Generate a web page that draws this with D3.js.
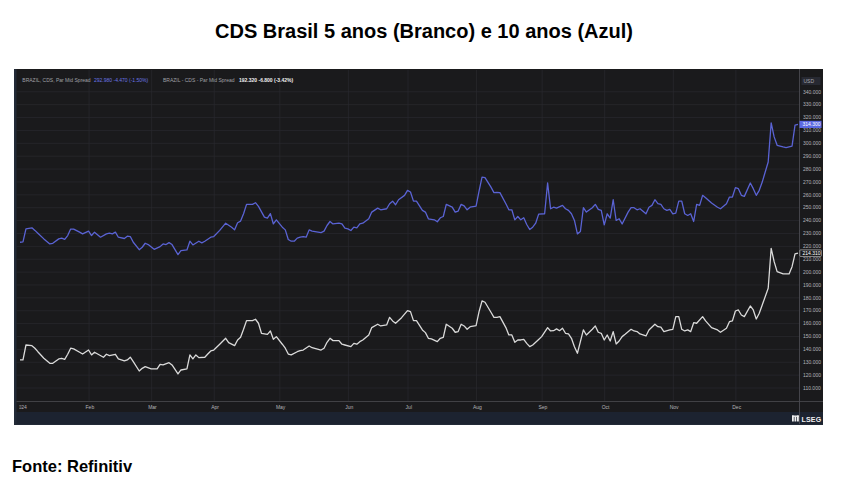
<!DOCTYPE html>
<html>
<head>
<meta charset="utf-8">
<title>CDS Brasil 5 anos (Branco) e 10 anos (Azul)</title>
<script src="https://cdnjs.cloudflare.com/ajax/libs/d3/7.8.5/d3.min.js"></script>
<style>
	body { margin: 0; background: #fff; }
	.title { font: bold 20px "Liberation Sans", Arial, sans-serif; fill: #000; }
	.source { font: bold 16.5px "Liberation Sans", Arial, sans-serif; fill: #000; }
	.tiny { font-family: "Liberation Sans", Arial, sans-serif; font-size: 5px; }
	.axis path { display: none; }
	.grid line { stroke: #2a2a2f; stroke-width: 0.7px; }
	.grid path { display: none; }
	.y-axis text { fill: #b4b4b8; }
	.x-axis text { fill: #b4b4b8; }
</style>
</head>
<body>
<svg id="chart" width="848" height="492"></svg>

<script type="text/javascript">

	// Data: trading day of 2024 (0 = Jan 1) and spread in bps
	var days10y = [0,1,2,4,5,6,8,10,11,13,14,15,16,17,18,20,21,23,24,25,27,29,30,31,32,33,35,36,37,38,
		40,41,42,43,45,47,48,49,50,51,53,54,56,57,58,60,61,62,64,65,67,69,71,72,73,74,75,76,78,79,
		80,82,83,84,85,86,88,89,90,91,92,93,94,95,96,97,98,101,102,103,104,105,107,108,109,110,111,112,113,114,
		115,117,118,120,121,123,124,125,126,127,129,130,131,132,133,135,136,137,139,140,141,142,143,145,146,147,148,149,150,151,
		153,154,155,156,158,159,160,161,163,164,165,166,167,168,169,170,171,172,173,174,176,177,178,179,180,182,183,184,185,186,
		187,188,189,190,192,193,194,195,196,197,198,199,200,201,202,204,205,206,207,208,210,211,212,213,214,215,216,217,218,219,
		220,221,222,223,224,225,226,227,228,229,230,232,234,235,237,238,239,240,241,242,243,245,246,247,248,249,251,252,253,254,
		256,257,259,260,261];
	var cds10y = [222.8,223,233.2,234,232,229.8,225.4,221.5,222,225.4,226,225,228,233,233,230.6,229.3,231.4,228,230.6,226.7,229.3,229.8,229.3,230.6,226.7,225.7,227.5,227.2,222.8,
		217,218.9,222,221,217.3,219.4,221.5,221,222.5,221,213.2,216.3,216.8,223.6,220.7,223.6,222.3,223.6,226.7,227.2,232,237.6,234.5,232.4,237.9,239.2,244.9,252.2,252.2,253.5,
		250.6,242.3,241.5,245,237,240.2,234.5,232.4,224.9,223.6,223.6,226,226.7,227.2,226.7,232.4,231.4,230.3,231.4,235.8,238.9,237,237.6,237,233.7,233.2,231.9,234.5,234,237,
		237.6,241,246.2,249.3,248,248.8,252.7,254.7,251.9,255.8,259.2,263.1,261.8,254.7,254.7,247.5,246.2,241,240.2,238.7,241.8,242.8,252.2,250.1,246.2,247,252.2,251.1,248,250,
		250.8,262.5,273.4,273,265.6,261.3,261.5,261.3,252.7,248,248,240.2,242.8,240.2,241.8,236.6,232.7,234.5,237.6,244.6,244.9,268.8,248.8,250,249.3,251.4,248.8,247.5,244.9,239.7,
		229.3,231.1,249.6,246.2,249.6,252.2,248.3,247.5,236.3,244.9,241.5,255.8,239.7,241,237,246.2,249.6,249.6,248,248.8,244.9,250,251.4,255.8,252.7,252.2,248.8,247.5,248.3,244.9,
		245.4,254.7,254.7,244.9,243.6,244.9,238.9,252.2,251.4,259.2,257.4,253.2,250,248.8,252.7,257.9,257.9,265.2,264.4,259.2,258.4,268.8,264.4,259.2,263.1,269.5,285.1,315.5,304.6,298.1,
		296.8,296.3,297.4,313.7,314.3];

	var days5y = [0,1,2,4,5,6,8,10,11,13,14,15,16,17,18,20,21,23,24,25,28,29,30,32,33,35,36,37,38,
		40,41,42,44,46,47,48,50,51,53,54,56,57,58,59,60,62,63,64,65,67,69,70,72,73,74,75,76,78,79,
		80,81,83,84,85,86,88,89,90,91,93,94,95,97,98,101,102,103,104,105,107,108,109,111,112,113,114,
		115,117,118,120,121,123,124,125,126,128,130,131,132,133,135,136,137,138,140,141,142,143,145,146,147,148,149,150,151,
		153,154,155,156,158,159,160,161,163,164,165,166,167,168,169,170,171,172,174,175,177,178,179,180,181,182,183,184,185,186,
		187,189,190,192,193,194,195,196,197,198,199,200,201,202,203,205,206,207,208,210,211,213,214,215,216,218,219,
		220,221,222,223,224,225,226,227,229,230,232,234,235,237,238,239,240,241,242,243,245,246,247,248,249,251,252,253,254,
		256,258,259,260,261];
	var cds5y = [131.4,131.4,143,142.5,140.5,137.8,132.7,128.8,128.8,132.2,132.7,131.9,135.8,140.5,140,137.4,136,139.1,135.3,137.4,133.5,135.8,134.7,135.8,132.2,130.6,131.4,133.5,130.1,
		122.8,124.9,126.2,124.4,124.4,128,127.5,129.3,127.5,120.5,123.6,124.4,135.3,132.2,135.3,133.2,133.5,136,138.4,139.1,143.6,148.2,144.8,142.5,146.9,149,155.2,161.9,161.9,163,
		159.9,152.1,151.3,153.9,147.4,149.5,143.6,140.5,136,135.3,137.8,138.6,139.1,142.2,140.9,139.1,140.5,145.1,148.2,146.4,146.4,143.6,143,141.7,144.3,143.6,145.6,
		146.9,150.8,156.5,159.1,157.8,158.6,164.5,161.7,159.9,164.2,169.7,168.9,161.9,161.9,154.7,152.6,148.2,147.7,145.6,148.2,149,159.1,156,152.9,153.4,159.1,157.8,155.2,157.2,
		158,168.9,177.2,176.2,168.4,164.5,164.5,165,156.5,150.8,150.8,145.1,146.9,146.9,147.4,144.3,141.7,143,147.3,149.5,156.5,153.9,154.1,155.5,154.1,156,152.1,151.6,148.2,141.7,
		136.6,154.7,150.8,155.2,157.8,152.9,152.1,146.9,150.8,146.1,153.4,143.8,146.1,149.5,151.3,155.2,153.9,153.4,151.6,150,154.7,159.1,157.2,156.8,153.4,154.7,155.2,
		165,165,155.2,153.9,154.7,153.4,160.3,159.9,165,161.7,156.5,154.7,152.9,156,161.1,161.7,169.4,170.2,166.3,165,173.3,170.2,163.2,167.6,174.1,187.1,218.1,207.7,200,
		198.2,198.2,203.8,213.7,214.31];

	var yTicks = [110,120,130,140,150,160,170,180,190,200,210,220,230,240,250,260,270,280,290,300,310,320,330,340];
	var monthLabels = ['2024','Feb','Mar','Apr','May','Jun','Jul','Aug','Sep','Oct','Nov','Dec'];
	var legend10y = ['BRAZIL, CDS, Par Mid Spread', '292.980  -4.470 (-1.50%)'];
	var legend5y = ['BRAZIL - CDS - Par Mid Spread', '192.320  -6.800 (-3.42%)'];
	var lastLabels = ['314.300', '214.310'];

	// Layout
	var panel = { left: 14, top: 69, right: 823, bottom: 425 };
	var plot = { left: 16.5, top: 70, right: 799.5, bottom: 401 };
	var blue = '#5a63d4', white = '#dadada';

	var svg = d3.select('#chart');

	svg.append('text').attr('class', 'title')
		.attr('x', 424).attr('y', 38).attr('text-anchor', 'middle')
		.text('CDS Brasil 5 anos (Branco) e 10 anos (Azul)');

	svg.append('text').attr('class', 'source')
		.attr('x', 12).attr('y', 472)
		.text('Fonte: Refinitiv');

	// Panel background
	svg.append('rect')
		.attr('x', panel.left).attr('y', panel.top)
		.attr('width', panel.right - panel.left).attr('height', panel.bottom - panel.top)
		.attr('fill', '#222a37');
	svg.append('rect')
		.attr('x', plot.left).attr('y', panel.top)
		.attr('width', panel.right - plot.left).attr('height', 412 - panel.top)
		.attr('fill', '#1a1a1c');
	svg.append('rect')
		.attr('x', plot.left).attr('y', 412)
		.attr('width', panel.right - plot.left).attr('height', panel.bottom - 413)
		.attr('fill', '#1c2330');

	// Trading-day calendar of 2024 (weekdays)
	var weekdays = [];
	for (var d = new Date(2024, 0, 1); d.getFullYear() === 2024; d.setDate(d.getDate() + 1)) {
		if (d.getDay() !== 0 && d.getDay() !== 6) weekdays.push(new Date(d));
	}
	var monthStarts = monthLabels.map(function(m, i) {
		return weekdays.findIndex(function(w) { return w.getMonth() === i; });
	});

	var x = d3.scaleLinear().domain([0, weekdays.length - 1]).range([20, 798]);
	var y = d3.scaleLinear().domain([110, 340]).range([387.5, 91.3]);

	svg.append('clipPath').attr('id', 'plot-clip')
		.append('rect')
		.attr('x', plot.left).attr('y', plot.top)
		.attr('width', plot.right - plot.left).attr('height', plot.bottom - plot.top);
	svg.append('clipPath').attr('id', 'xlab-clip')
		.append('rect')
		.attr('x', 19.3).attr('y', plot.bottom)
		.attr('width', plot.right - 19.3).attr('height', 11);

	// Grid
	svg.append('g').attr('class', 'grid')
		.attr('transform', 'translate(' + plot.right + ',0)')
		.call(d3.axisLeft(y).tickValues(yTicks).tickSize(plot.right - plot.left).tickFormat(''));
	svg.append('g')
		.attr('clip-path', 'url(#plot-clip)')
		.append('g').attr('class', 'grid')
		.attr('transform', 'translate(0,' + plot.bottom + ')')
		.call(d3.axisBottom(x).tickValues(monthStarts.slice(1)).tickSize(-(plot.bottom - plot.top)).tickFormat(''));

	// Axes
	var yAxis = svg.append('g').attr('class', 'axis y-axis tiny')
		.attr('transform', 'translate(803,0)')
		.call(d3.axisRight(y).tickValues(yTicks).tickSize(0).tickPadding(0).tickFormat(d3.format('.3f')));
	yAxis.selectAll('text').style('font-size', '5px').attr('dy', '0.35em');

	var xAxis = svg.append('g')
		.attr('clip-path', 'url(#xlab-clip)')
		.append('g').attr('class', 'axis x-axis tiny')
		.attr('transform', 'translate(0.8,' + plot.bottom + ')')
		.call(d3.axisBottom(x).tickValues(monthStarts).tickSize(0).tickPadding(4)
			.tickFormat(function(v, i) { return monthLabels[i]; }));
	xAxis.selectAll('text').style('font-size', '5px');

	svg.append('line')
		.attr('x1', plot.left).attr('x2', panel.right)
		.attr('y1', plot.bottom + 0.5).attr('y2', plot.bottom + 0.5)
		.attr('stroke', '#46464b').attr('stroke-width', 0.9);
	svg.append('line')
		.attr('x1', plot.right).attr('x2', plot.right)
		.attr('y1', panel.top).attr('y2', panel.bottom - 1)
		.attr('stroke', '#4a4a50').attr('stroke-width', 0.9);

	// Series
	var line = d3.line()
		.x(function(p) { return x(p[0]); })
		.y(function(p) { return y(p[1]); });

	var plotG = svg.append('g').attr('clip-path', 'url(#plot-clip)');
	plotG.append('path')
		.datum(d3.zip(days10y, cds10y))
		.attr('d', line)
		.attr('fill', 'none').attr('stroke', blue).attr('stroke-width', 1.3)
		.attr('stroke-linejoin', 'round');
	plotG.append('path')
		.datum(d3.zip(days5y, cds5y))
		.attr('d', line)
		.attr('fill', 'none').attr('stroke', white).attr('stroke-width', 1.3)
		.attr('stroke-linejoin', 'round');

	// Last value tags on the axis
	var y10 = y(cds10y[cds10y.length - 1]), y5 = y(cds5y[cds5y.length - 1]);
	svg.append('rect')
		.attr('x', plot.right).attr('y', y10 - 3.6).attr('width', 22).attr('height', 7.2)
		.attr('fill', '#5b69e2');
	svg.append('text').attr('class', 'tiny')
		.attr('x', plot.right + 3).attr('y', y10).attr('dy', '0.35em')
		.attr('fill', '#fff').text(lastLabels[0]);
	svg.append('rect')
		.attr('x', plot.right + 0.3).attr('y', y5 - 3.3).attr('width', 21.5).attr('height', 6.6)
		.attr('fill', '#1a1a1c').attr('stroke', '#d8d8d8').attr('stroke-width', 0.6).attr('rx', 0.8);
	svg.append('text').attr('class', 'tiny')
		.attr('x', plot.right + 3).attr('y', y5).attr('dy', '0.35em')
		.attr('fill', '#fff').text(lastLabels[1]);

	// Currency box
	svg.append('rect')
		.attr('x', 801.5).attr('y', 77).attr('width', 19).attr('height', 8)
		.attr('fill', '#272932');
	svg.append('text').attr('class', 'tiny')
		.attr('x', 803.5).attr('y', 81).attr('dy', '0.35em')
		.attr('fill', '#a8a8b0').text('USD');

	// Legend
	var leg = svg.append('text').attr('class', 'tiny').attr('y', 81.5);
	leg.append('tspan').attr('x', 22.3).attr('fill', '#a0a0a6').text(legend10y[0]);
	leg.append('tspan').attr('x', 94).attr('fill', '#6b76e6').text(legend10y[1]);
	leg.append('tspan').attr('x', 163).attr('fill', '#a0a0a6').text(legend5y[0]);
	leg.append('tspan').attr('x', 239).attr('fill', '#f0f0f0').attr('font-weight', 'bold').text(legend5y[1]);

	// LSEG mark
	var logo = svg.append('g').attr('transform', 'translate(792,415.5)');
	[[0, 0, 1.8, 6], [2.5, 1.2, 1.8, 4.8], [5, 0, 1.8, 6], [0, 0, 6.8, 1.4]].forEach(function(r) {
		logo.append('rect').attr('x', r[0]).attr('y', r[1]).attr('width', r[2]).attr('height', r[3]).attr('fill', '#f0f0f0');
	});
	svg.append('text')
		.attr('x', 801.5).attr('y', 421.5)
		.attr('fill', '#f0f0f0')
		.style('font', 'bold 7px "Liberation Sans", Arial, sans-serif')
		.style('letter-spacing', '0.2px')
		.text('LSEG');

</script>

</body>
</html>
